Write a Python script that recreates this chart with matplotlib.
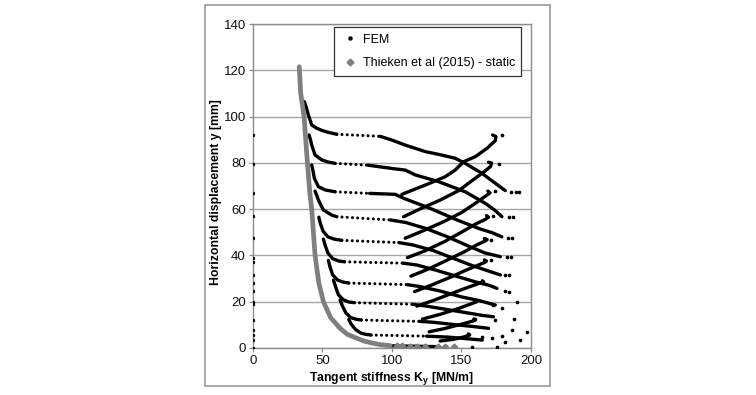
import matplotlib
matplotlib.use('Agg')
import matplotlib.pyplot as plt
from matplotlib.lines import Line2D
from matplotlib.patches import Rectangle

plt.rcParams['font.family'] = ['Liberation Sans', 'DejaVu Sans']
plt.rcParams['mathtext.fontset'] = 'custom'
plt.rcParams['mathtext.rm'] = 'Liberation Sans'
plt.rcParams['mathtext.bf'] = 'Liberation Sans:bold'

# ---------------- data ----------------
x_ticks = [0, 50, 100, 150, 200]
y_ticks = [0, 20, 40, 60, 80, 100, 120, 140]

# Thieken et al (2015) - static
static_K = [33.4, 34.5, 36.9, 39.3, 41.2, 42.4, 44.8, 47.5, 50.8, 56.0, 62.8,
            68.0, 74.8, 80.0, 86.8, 92.0, 98.8]
static_y = [121.6, 110.0, 100.0, 80.0, 66.0, 60.0, 40.0, 28.0, 20.0, 13.0, 8.4,
            5.8, 4.1, 2.9, 1.9, 1.3, 0.9]
static_tail_K = [103.6, 107.2, 113.2, 118.0, 124.0, 133.5, 138.3, 144.3]
static_tail_y = [0.7, 0.6, 0.5, 0.5, 0.4, 0.3, 0.3, 0.2]

# FEM: points at K = 0
fem_zero_y = [92, 79.5, 67, 57, 47.5, 39, 37, 31.5, 28, 24.5, 20, 19, 12, 7.5, 5.5, 3.5, 0]

# FEM loading branches: drop from previous level onto plateau
drop_K = [[37.1, 38.5, 40.0, 42.4, 46.0, 50.0, 54.4, 60.4],
          [40.5, 41.5, 42.4, 44.8, 49.6, 54.0, 59.2],
          [42.4, 43.5, 44.3, 47.2, 52.0, 59.2],
          [44.8, 46.0, 47.2, 50.8, 56.8, 60.4],
          [47.5, 48.5, 50.5, 54.0, 58.5, 64.0],
          [50.8, 52.0, 54.0, 57.5, 62.0, 66.0],
          [54.4, 55.5, 57.5, 61.0, 65.0, 69.0],
          [58.0, 59.5, 61.5, 65.0, 69.0, 73.0],
          [62.8, 64.5, 67.0, 70.5, 74.5, 78.0],
          [69.0, 71.0, 74.0, 77.5, 81.0, 85.0]]
drop_y = [[106.5, 104.0, 100.7, 96.4, 95.0, 94.0, 93.2, 92.4],
          [92.1, 90.0, 87.7, 83.4, 81.3, 80.4, 79.8],
          [79.1, 76.0, 73.3, 69.7, 68.3, 67.5],
          [67.8, 66.0, 63.9, 59.6, 57.4, 56.7],
          [56.5, 54.0, 50.5, 48.0, 47.0, 46.5],
          [47.0, 44.5, 41.0, 38.5, 37.5, 37.2],
          [37.8, 35.0, 31.5, 29.3, 28.4, 28.0],
          [29.3, 26.5, 23.0, 20.8, 19.8, 19.5],
          [20.6, 18.0, 15.0, 13.0, 12.3, 12.0],
          [12.2, 10.0, 7.8, 6.4, 5.8, 5.5]]

# FEM plateaus (sparse points)
plateau_K = [[60.4, 91.6], [59.2, 83.0], [59.2, 84.0], [60.4, 99.0], [64.0, 105.0],
             [66.0, 108.0], [69.0, 111.0], [73.0, 115.0], [78.0, 120.0], [85.0, 125.0]]
plateau_y = [[92.4, 91.5], [79.8, 79.0], [67.5, 66.8], [56.7, 55.3], [46.5, 45.5],
             [37.2, 36.6], [28.0, 27.3], [19.5, 18.8], [12.0, 11.4], [5.5, 5.0]]

# FEM loading branches: descending part at high stiffness
desc_K = [[91.6, 100.0, 109.6, 124.0, 135.0, 145.5, 152.7, 164.7, 174.3, 181.5],
          [83.0, 102.4, 109.6, 116.8, 133.5, 152.7, 167.1, 174.0, 179.1],
          [84.0, 102.4, 108.4, 127.6, 146.8, 163.0, 172.0, 179.0],
          [99.0, 110.0, 125.0, 140.0, 155.0, 167.0, 178.0],
          [105.0, 115.0, 130.0, 145.0, 158.0, 168.0, 178.0],
          [108.0, 118.0, 132.0, 146.0, 160.0, 170.0, 175.5],
          [111.0, 120.0, 135.0, 150.0, 162.0, 174.3],
          [115.0, 125.0, 140.0, 155.0, 165.0, 173.0],
          [120.0, 130.0, 145.0, 158.0, 169.5],
          [125.0, 140.0, 152.0, 165.0]]
desc_y = [[91.5, 89.9, 87.7, 84.9, 83.5, 82.0, 79.8, 75.5, 71.2, 68.0],
          [79.0, 77.4, 76.9, 74.8, 71.9, 67.5, 62.5, 59.5, 56.7],
          [66.8, 66.4, 64.7, 60.3, 55.3, 51.5, 49.8, 48.0],
          [55.3, 54.2, 51.5, 48.0, 44.0, 41.0, 39.4],
          [45.5, 44.5, 42.0, 38.5, 35.5, 33.5, 31.5],
          [36.6, 35.8, 33.5, 31.0, 28.5, 27.0, 25.7],
          [27.3, 26.5, 24.5, 22.0, 20.5, 18.5],
          [18.8, 18.0, 16.5, 15.0, 14.0, 13.4],
          [11.4, 11.0, 10.0, 9.2, 8.4],
          [5.0, 4.6, 4.0, 3.3]]

# FEM reloading branches
reload_K = [[107.2, 124.0, 138.3, 145.5, 151.5, 160.0, 168.3, 174.3, 174.8, 172.4],
            [108.4, 120.0, 135.0, 148.0, 158.0, 166.0, 171.0, 171.6, 169.5],
            [109.6, 122.0, 137.0, 150.0, 160.0, 167.0, 170.5, 169.0],
            [111.2, 124.0, 138.0, 150.0, 160.0, 167.0, 169.5, 168.0],
            [113.7, 126.0, 140.0, 152.0, 161.0, 167.0, 168.5, 166.5],
            [116.3, 128.0, 142.0, 153.0, 161.0, 167.0, 168.0, 166.5],
            [118.0, 130.0, 143.0, 154.0, 162.0, 166.0, 165.0],
            [122.0, 135.0, 148.0, 157.0, 161.0, 160.0],
            [126.8, 138.0, 150.0, 158.0, 160.0, 159.0],
            [134.7, 144.0, 152.0, 156.0, 155.0]]
reload_y = [[66.4, 70.4, 74.0, 76.9, 80.5, 82.7, 86.3, 89.6, 91.4, 92.1],
            [56.7, 60.0, 64.0, 68.0, 72.5, 76.0, 78.5, 80.0, 80.3],
            [47.4, 50.5, 54.5, 58.5, 62.5, 65.5, 67.0, 67.8],
            [39.0, 42.0, 46.0, 50.0, 53.5, 55.5, 56.5, 57.2],
            [31.0, 34.0, 38.0, 41.5, 44.5, 46.2, 46.8, 47.3],
            [24.3, 27.0, 30.5, 33.5, 35.5, 37.0, 37.5, 38.0],
            [18.0, 20.5, 23.5, 26.0, 27.7, 28.5, 29.0],
            [12.4, 14.5, 17.0, 19.0, 19.9, 20.4],
            [6.9, 8.3, 10.2, 11.5, 12.0, 12.5],
            [2.9, 3.6, 4.7, 5.5, 6.0]]

# FEM isolated points
fem_dots_K = [179.0, 176.7, 174.3, 172.4, 171.4, 171.0,
              185.8, 189.2, 191.1, 184.0, 187.0, 183.5, 186.5, 182.5, 185.5,
              181.5, 184.5, 181.6, 184.5, 173.0, 179.0, 190.0,
              160.0, 173.8, 187.5, 164.7, 172.0, 179.0, 186.3, 181.5, 192.3, 197.0,
              157.5, 175.5]
fem_dots_y = [92.1, 79.6, 67.7, 56.8, 46.8, 37.8,
              67.5, 67.2, 67.2, 56.5, 56.5, 47.5, 47.5, 39.2, 39.2,
              31.5, 31.5, 24.5, 24.3, 18.5, 17.3, 19.9,
              12.4, 12.0, 12.4, 4.8, 4.1, 5.2, 7.7, 2.6, 3.3, 6.9,
              0.5, 0.5]

# FEM bottom branch along the static curve
bottom_K = [100.0, 110.0, 120.0, 131.0]
bottom_y = [0.8, 0.7, 0.6, 0.5]

# ---------------- figure ----------------
fig = plt.figure(figsize=(7.56, 3.95), dpi=100)
ax = fig.add_axes([0.3343, 0.1197, 0.3681, 0.8188])

fig.patches.append(Rectangle((0.2718, 0.0225), 0.4558, 0.9648, transform=fig.transFigure,
                             fill=False, edgecolor='#9a9a9a', linewidth=1.2))

black = '#000000'
lw_dense = 2.4
for k, y in zip(drop_K, drop_y):
    ax.plot(k, y, color=black, lw=lw_dense, solid_capstyle='round', zorder=3)
for k, y in zip(plateau_K, plateau_y):
    ax.plot(k, y, color=black, lw=2.2, linestyle=(0, (0.01, 1.7)),
            dash_capstyle='round', zorder=3)
for k, y in zip(desc_K, desc_y):
    ax.plot(k, y, color=black, lw=lw_dense, solid_capstyle='round', zorder=3)
for k, y in zip(reload_K, reload_y):
    ax.plot(k, y, color=black, lw=lw_dense, solid_capstyle='round', zorder=3)
ax.plot(bottom_K, bottom_y, color=black, lw=lw_dense, zorder=3)
ax.scatter([0] * len(fem_zero_y), fem_zero_y, s=6, color=black, zorder=3, linewidths=0)
ax.scatter(fem_dots_K, fem_dots_y, s=7, color=black, zorder=3, linewidths=0)

grey = '#7f7f7f'
ax.plot(static_K, static_y, color=grey, lw=3.4, solid_capstyle='round', zorder=4)
ax.plot(static_tail_K, static_tail_y, linestyle='none', marker='D', markersize=3.5,
        color=grey, zorder=4)

ax.set_xlim(0, 200)
ax.set_ylim(0, 140)
ax.set_xticks(x_ticks)
ax.set_yticks(y_ticks)
ax.tick_params(axis='both', direction='out', length=3, width=0.9, color='#8c8c8c',
               labelsize=9.5, labelcolor='#111111', pad=2)
ax.yaxis.grid(True, color='#a6a6a6', linewidth=1.0)
ax.set_axisbelow(True)
for s in ax.spines.values():
    s.set_color('#8c8c8c')
    s.set_linewidth(1.0)

ax.set_xlabel('Tangent stiffness K$_\\mathbf{y}$ [MN/m]', fontsize=8.8, fontweight='bold')
ax.set_ylabel('Horizontal displacement y [mm]', fontsize=8.8, fontweight='bold')
ax.xaxis.set_label_coords(0.5, -0.068)
ax.yaxis.set_label_coords(-0.112, 0.48)

handles = [Line2D([], [], linestyle='none', marker='o', markersize=2.2, color=black),
           Line2D([], [], linestyle='none', marker='D', markersize=3.5, color=grey)]
leg = ax.legend(handles, ['FEM', 'Thieken et al (2015) - static'],
                loc='center', bbox_to_anchor=(0.292, 0.843, 0.672, 0.146), mode='expand',
                fontsize=9, frameon=True, fancybox=False, framealpha=1,
                edgecolor='#333333', handlelength=1.6, handletextpad=0.2,
                labelspacing=0.95, borderpad=0.5, borderaxespad=0)
leg.get_frame().set_linewidth(0.9)
leg.set_zorder(6)

fig.savefig('out.png', dpi=100)
